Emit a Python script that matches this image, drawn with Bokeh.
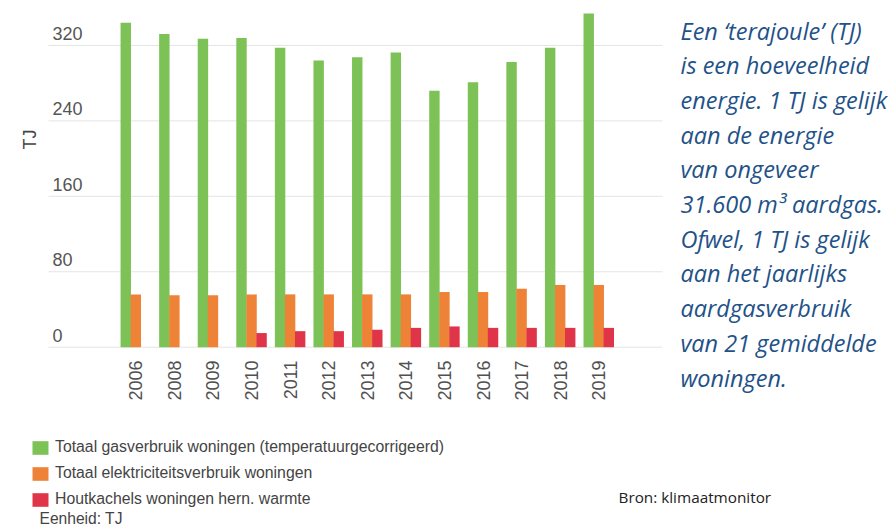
import math
from bokeh.plotting import figure
from bokeh.models import ColumnDataSource, Range1d, Legend, LegendItem, Label
from bokeh.transform import dodge
from bokeh.core.properties import value
from bokeh.embed import file_html
from bokeh.resources import INLINE

# ---- data ----
years = ["2006", "2008", "2009", "2010", "2011", "2012", "2013",
         "2014", "2015", "2016", "2017", "2018", "2019"]
gas = [344, 332, 327, 328, 317.5, 304, 307.5, 312.5, 272, 281, 302.5, 317.5, 354]
elec = [56, 55, 55, 56, 56, 56, 56, 56, 58.5, 58.5, 62, 66, 66]
wood = [0, 0, 0, 15, 17, 17, 18.5, 20.5, 22, 20.5, 20.5, 20.5, 20.5]
y_ticks = [0, 80, 160, 240, 320]
series_names = ["Totaal gasverbruik woningen (temperatuurgecorrigeerd)",
                "Totaal elektriciteitsverbruik woningen",
                "Houtkachels woningen hern. warmte"]
note_lines = ["Een \u2018terajoule\u2019 (TJ)", "is een hoeveelheid",
              "energie. 1 TJ is gelijk", "aan de energie", "van ongeveer",
              "31.600 m\u00b3 aardgas.", "Ofwel, 1 TJ is gelijk",
              "aan het jaarlijks", "aardgasverbruik", "van 21 gemiddelde",
              "woningen."]

GREEN, ORANGE, RED = "#7dc256", "#ee8236", "#e03549"
FONT = "Liberation Sans"

W_PX, H_PX = 893, 527
# pixel geometry of the value scale
CX0, CSTEP = 135.3, 38.58          # centre of first group, group spacing (px)
VY0, VPX = 346.7, 0.943            # pixel row of value 0, px per unit


def dx(px):
    return (px - CX0) / CSTEP


def dy(py):
    return (VY0 - py) / VPX


idx = list(range(len(years)))
src = ColumnDataSource(dict(x=idx, year=years, gas=gas, elec=elec, wood=wood))

p = figure(width=W_PX, height=H_PX, output_backend="svg", toolbar_location=None,
           x_range=Range1d(dx(0), dx(W_PX)), y_range=Range1d(dy(H_PX), dy(0)),
           x_axis_location=None, y_axis_location=None,
           min_border=0, outline_line_color=None,
           background_fill_color="white", border_fill_color="white")
p.grid.visible = False

# horizontal grid lines over the plot area only
gsrc = ColumnDataSource(dict(y=y_ticks, t=[str(v) for v in y_ticks]))
p.segment(x0=dx(48), x1=dx(662), y0="y", y1="y", source=gsrc,
          line_color="#e4e4e4", line_width=1)

W = 0.27
r1 = p.vbar(x=dodge("x", -0.26, range=p.x_range), top="gas", width=W, source=src,
            fill_color=GREEN, line_color=None)
r2 = p.vbar(x=dodge("x", 0.0, range=p.x_range), top="elec", width=W, source=src,
            fill_color=ORANGE, line_color=None)
r3 = p.vbar(x=dodge("x", 0.26, range=p.x_range), top="wood", width=W, source=src,
            fill_color=RED, line_color=None)

# y tick labels (sit above their grid lines)
p.text(x=dx(52), y="y", text="t", source=gsrc, text_font=value(FONT),
       text_font_size="18px", text_color="#555555", text_baseline="middle",
       text_align="left", y_offset=-12)

# category labels, rotated
p.text(x="x", y=dy(360), text="year", source=src, angle=math.pi / 2,
       text_font=value(FONT), text_font_size="18px", text_color="#505050",
       text_align="right", text_baseline="middle")

# y axis title
p.add_layout(Label(x=dx(29), y=dy(139), text="TJ", angle=math.pi / 2,
                   text_align="center", text_baseline="middle",
                   text_font=FONT, text_font_size="18px", text_color="#444444"))

# legend
legend = Legend(items=[LegendItem(label=series_names[0], renderers=[r1]),
                       LegendItem(label=series_names[1], renderers=[r2]),
                       LegendItem(label=series_names[2], renderers=[r3])],
                location=(30, 19), orientation="vertical",
                padding=0, margin=0, spacing=8,
                glyph_width=20, glyph_height=17, label_height=17,
                label_standoff=5, label_text_font=FONT,
                label_text_font_size="15.8px", label_text_color="#444444",
                border_line_color=None, background_fill_alpha=0)
p.add_layout(legend)

p.add_layout(Label(x=dx(39), y=dy(518), text="Eenheid: TJ", text_baseline="middle",
                   text_font=FONT, text_font_size="15.6px", text_color="#444444"))
p.add_layout(Label(x=dx(618), y=dy(496), text="Bron: klimaatmonitor",
                   text_baseline="middle", text_font="Open Sans",
                   text_font_size="15.3px", text_color="#222222"))

# explanatory note on the right
for i, line in enumerate(note_lines):
    p.add_layout(Label(x=dx(680), y=dy(30 + 34.7 * i), text=line,
                       text_baseline="middle", text_font="Open Sans",
                       text_font_style="italic", text_font_size="23.5px",
                       text_color="#1f5288"))

open("out.html", "w").write(file_html(p, INLINE))
